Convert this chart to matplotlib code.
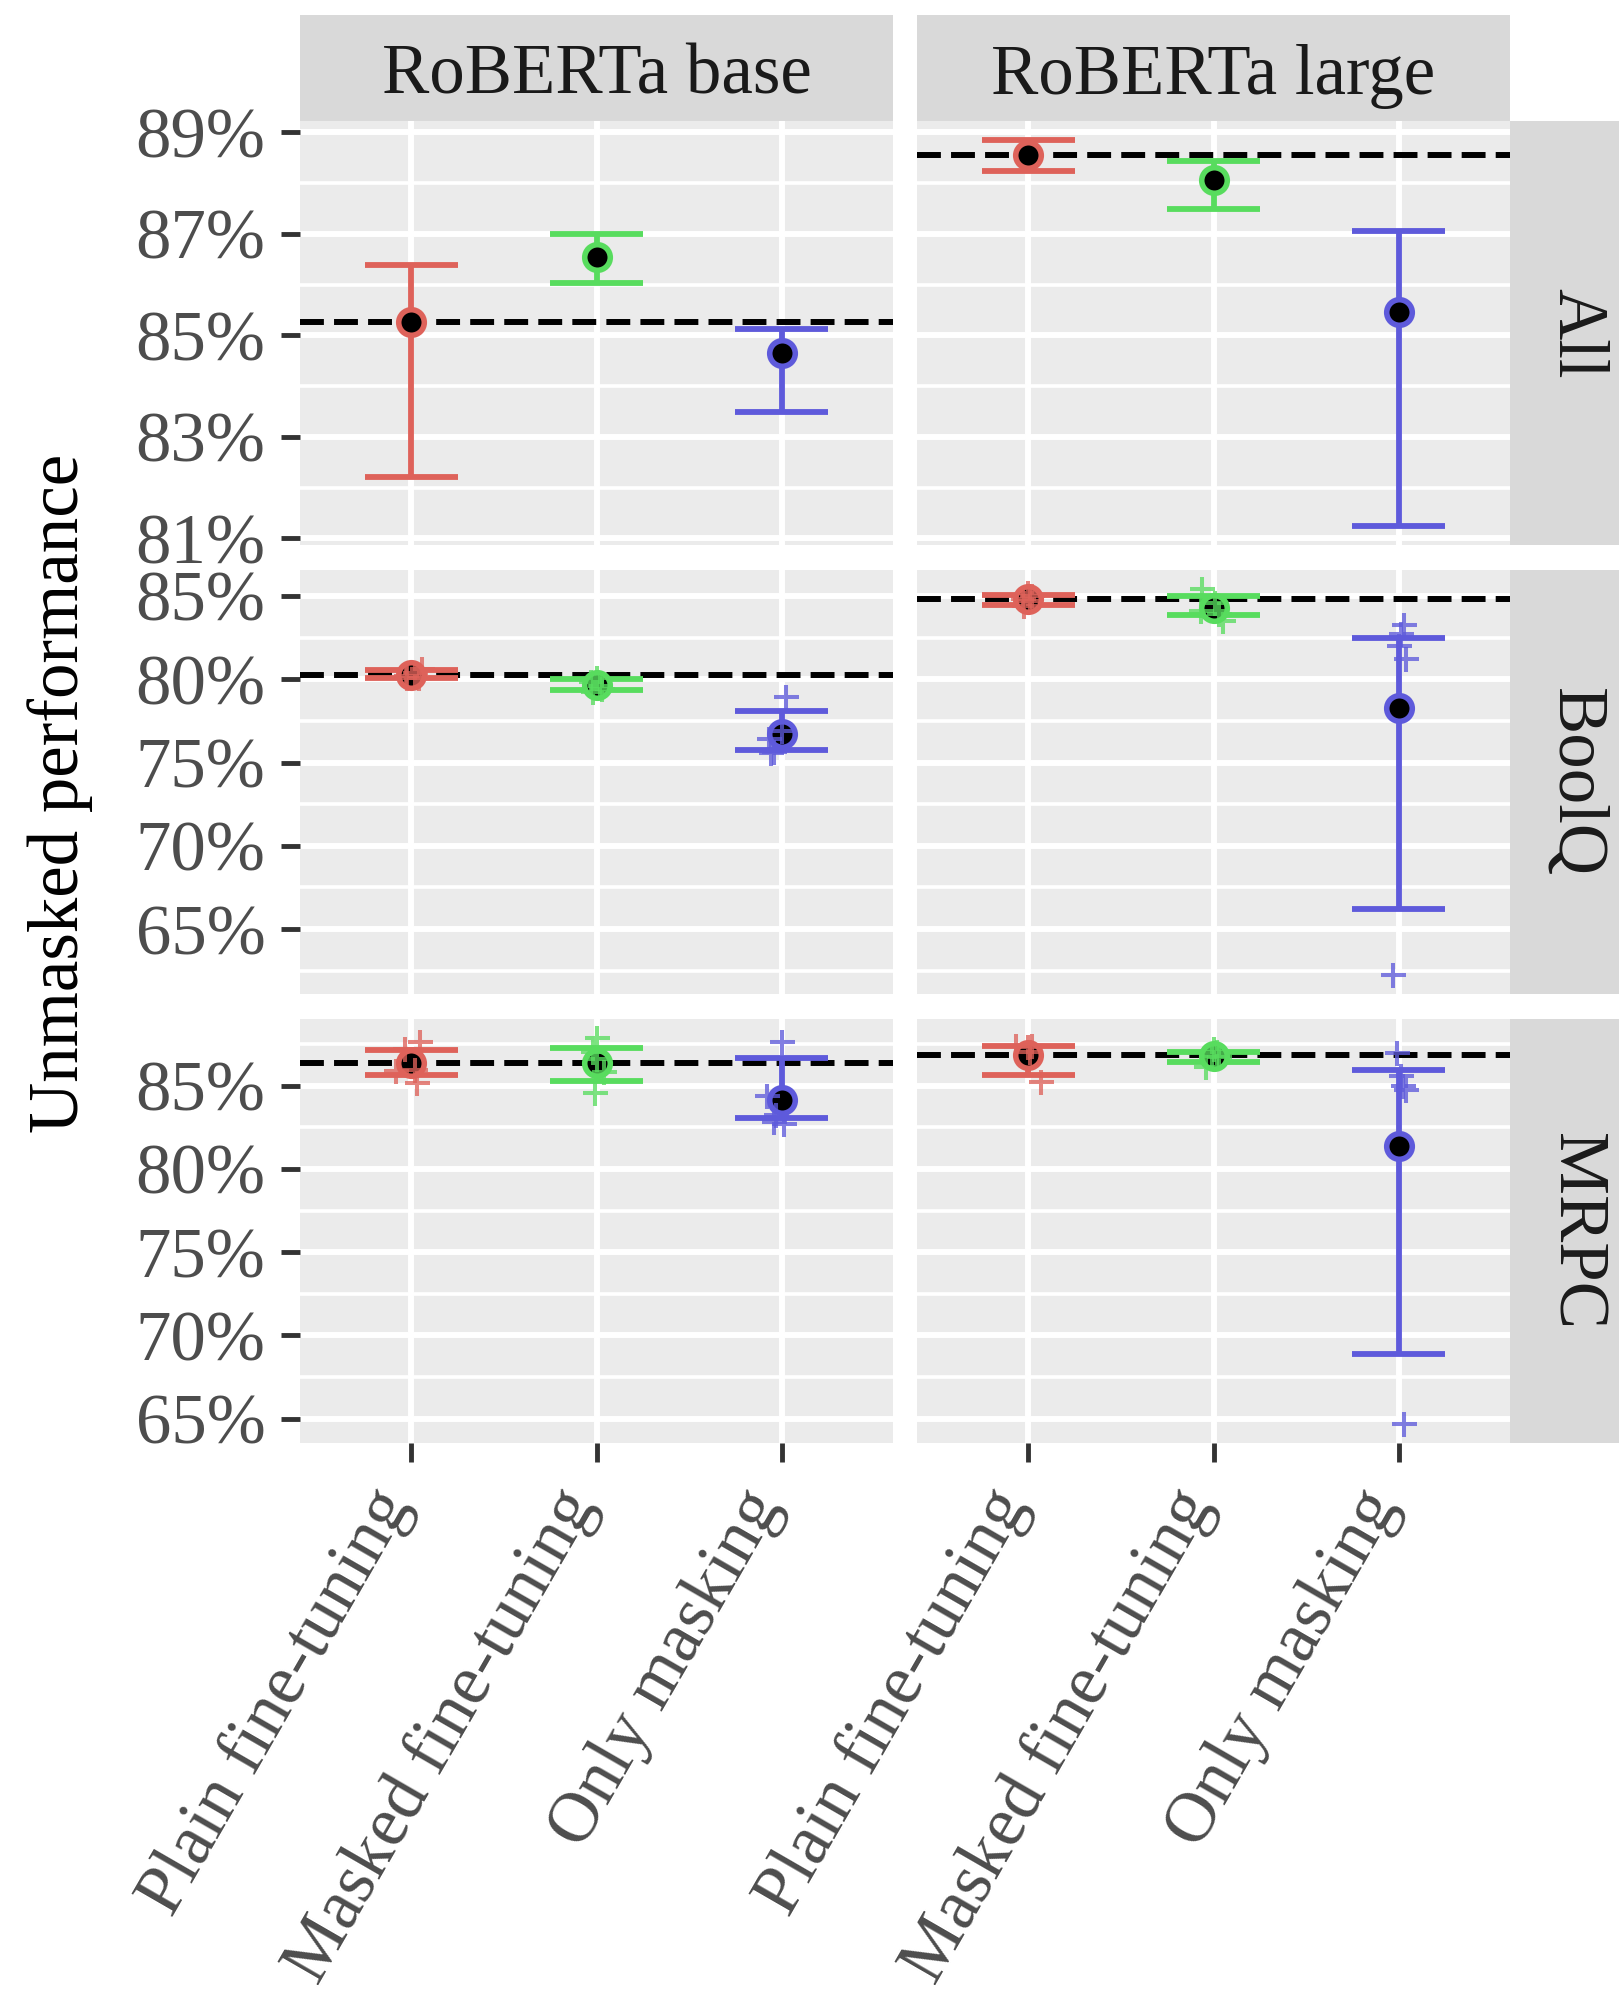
import numpy as np
import matplotlib.pyplot as plt
from matplotlib.ticker import MultipleLocator

FONT = "Liberation Serif"
plt.rcParams['font.family'] = [FONT, 'DejaVu Serif']

models = ["RoBERTa base", "RoBERTa large"]
tasks = ["All", "BoolQ", "MRPC"]
methods = ["Plain fine-tuning", "Masked fine-tuning", "Only masking"]
colors = ["#DE625A", "#58DC5E", "#5E5ADB"]

# rows: model (base, large); columns: method
all_mean = [[85.26, 86.54, 84.66], [88.55, 88.05, 85.45]]
all_lo = [[82.21, 86.03, 83.48], [88.24, 87.49, 81.25]]
all_hi = [[86.39, 86.99, 85.12], [88.84, 88.43, 87.05]]

boolq_mean = [[80.26, 79.64, 76.70], [84.82, 84.30, 78.28]]
boolq_lo = [[80.06, 79.34, 75.74], [84.44, 83.86, 66.20]]
boolq_hi = [[80.54, 80.00, 78.08], [85.06, 85.00, 82.50]]
# single runs (5 seeds) and their horizontal jitter
boolq_runs = [
    [[80.60, 80.35, 80.20, 80.10, 80.05],
     [80.10, 79.85, 79.60, 79.40, 79.25],
     [78.94, 76.90, 76.40, 75.60, 75.66]],
    [[85.20, 85.00, 84.80, 84.70, 84.40],
     [85.40, 84.60, 84.10, 83.90, 83.50],
     [83.26, 82.72, 82.00, 81.22, 62.26]],
]
boolq_jitter = [
    [[0.06, 0.02, -0.03, 0.04, -0.02],
     [0.00, -0.03, 0.02, 0.03, -0.02],
     [0.02, 0.00, -0.07, -0.06, -0.04]],
    [[0.00, 0.02, -0.03, 0.01, -0.02],
     [-0.06, 0.01, -0.07, 0.03, 0.05],
     [0.03, 0.01, 0.00, 0.04, -0.03]],
]

mrpc_mean = [[86.36, 86.36, 84.16], [86.86, 86.76, 81.40]]
mrpc_lo = [[85.66, 85.26, 83.06], [85.64, 86.40, 68.90]]
mrpc_hi = [[87.12, 87.24, 86.64], [87.40, 87.04, 85.92]]
mrpc_runs = [
    [[87.60, 85.16, 85.90, 87.20, 85.94],
     [87.84, 84.54, 87.00, 85.80, 86.62],
     [87.64, 84.40, 82.80, 82.70, 83.26]],
    [[87.40, 87.40, 85.20, 87.30, 87.00],
     [86.10, 87.20, 87.00, 86.80, 86.70],
     [86.94, 85.00, 84.74, 85.60, 64.70]],
]
mrpc_jitter = [
    [[0.05, 0.03, -0.08, -0.035, 0.02],
     [0.00, -0.01, -0.02, 0.04, 0.00],
     [0.00, -0.08, -0.04, 0.01, -0.03]],
    [[-0.065, 0.02, 0.07, 0.00, 0.01],
     [-0.04, 0.00, 0.02, -0.01, 0.03],
     [-0.01, 0.02, 0.04, 0.01, 0.03]],
]

# task -> data, major tick step, tick offset, minor step
panels = {
    "All": (all_mean, all_lo, all_hi, None, None, 2, 1, 1),
    "BoolQ": (boolq_mean, boolq_lo, boolq_hi, boolq_runs, boolq_jitter, 5, 0, 2.5),
    "MRPC": (mrpc_mean, mrpc_lo, mrpc_hi, mrpc_runs, mrpc_jitter, 5, 0, 2.5),
}

W, H = 1619, 1992
fig = plt.figure(figsize=(W / 100, H / 100), dpi=100)


def box(x, y, w, h):
    # pixel box measured from the top-left corner -> figure fraction
    return [x / W, 1 - (y + h) / H, w / W, h / H]


col_x = [300, 917]
row_y = [121, 570, 1019]
pw, ph = 593, 424
fs = 51
x = np.arange(1, 4)

for r, task in enumerate(tasks):
    mean, lo, hi, runs, jit, major, off, minor = panels[task]
    vals = np.concatenate([np.ravel(lo), np.ravel(hi)] + ([np.ravel(runs)] if runs else []))
    span = vals.max() - vals.min()
    ymin, ymax = vals.min() - 0.05 * span, vals.max() + 0.05 * span
    yticks = np.arange(np.ceil((ymin - off) / major) * major + off, ymax, major)

    for c, model in enumerate(models):
        ax = fig.add_axes(box(col_x[c], row_y[r], pw, ph))
        ax.set_facecolor("#EBEBEB")
        for s in ax.spines.values():
            s.set_visible(False)
        ax.set_xlim(0.4, 3.6)
        ax.set_ylim(ymin, ymax)
        ax.set_yticks(yticks, labels=[f"{v:.0f}%" for v in yticks],
                      fontfamily=FONT, fontsize=fs, color="#4D4D4D")
        ax.yaxis.set_minor_locator(MultipleLocator(minor))
        if r == 2:
            ax.set_xticks(x, labels=methods, fontfamily=FONT, fontsize=fs,
                          color="#4D4D4D", rotation=60, ha="right", va="baseline",
                          rotation_mode="anchor")
        else:
            ax.set_xticks(x)
        ax.set_axisbelow(True)
        ax.grid(which="major", color="white", lw=4.3)
        ax.grid(which="minor", axis="y", color="white", lw=2.6)
        ax.tick_params(which="major", length=14, width=3.5, color="#333333", pad=11)
        ax.tick_params(axis="x", pad=30)
        ax.tick_params(which="minor", length=0)
        if c == 1:
            ax.tick_params(axis="y", left=False, labelleft=False)
        if r < 2:
            ax.tick_params(axis="x", bottom=False, labelbottom=False)

        m = np.array(mean[c])
        ax.axhline(m[0], color="black", lw=4.3, dashes=(4, 1.7), zorder=2)
        ax.vlines(x, lo[c], hi[c], colors=colors, lw=4.2, zorder=3, capstyle="butt")
        ax.hlines(lo[c], x - 0.25, x + 0.25, colors=colors, lw=4.2, zorder=3, capstyle="butt")
        ax.hlines(hi[c], x - 0.25, x + 0.25, colors=colors, lw=4.2, zorder=3, capstyle="butt")
        for k in range(3):
            ax.plot(x[k], m[k], "o", ms=18.4, mfc="black", mec=colors[k], mew=4, zorder=4)
            if runs:
                ax.plot(x[k] + np.array(jit[c][k]), runs[c][k], "+", ms=18, mew=2.9,
                        color=colors[k], alpha=0.78, zorder=5)

# facet strips
for c, model in enumerate(models):
    sax = fig.add_axes(box(col_x[c], 15, pw, 106))
    sax.set_facecolor("#D9D9D9")
    sax.set_xticks([]); sax.set_yticks([])
    for s in sax.spines.values():
        s.set_visible(False)
    sax.text(0.5, 0.42, model, ha="center", va="center", fontsize=fs, color="#1A1A1A",
             family=FONT, transform=sax.transAxes)

for r, task in enumerate(tasks):
    sax = fig.add_axes(box(1510, row_y[r], 109, ph))
    sax.set_facecolor("#D9D9D9")
    sax.set_xticks([]); sax.set_yticks([])
    for s in sax.spines.values():
        s.set_visible(False)
    sax.text(0.6, 0.5, task, ha="center", va="center", rotation=-90, fontsize=fs,
             color="#1A1A1A", family=FONT, transform=sax.transAxes)

fig.text(60 / W, 1 - 793 / H, "Unmasked performance", rotation=90, ha="center",
         va="center", fontsize=fs, color="black", family=FONT)

fig.savefig("out.png", dpi=100, facecolor="white")
